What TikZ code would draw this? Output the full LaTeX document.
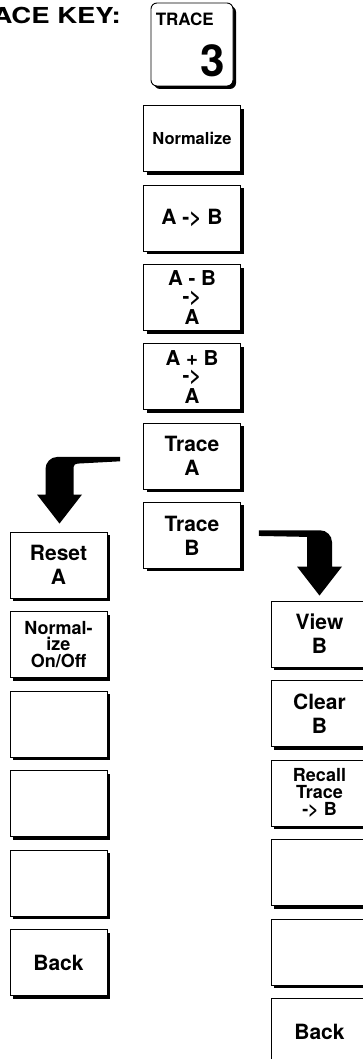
\documentclass[tikz,border=0pt]{standalone}
\usepackage{fontspec}
\setmainfont{TeX Gyre Heros}
\usetikzlibrary{positioning,calc,shadows}

\tikzset{
  softkey/.style={draw, line width=0.9pt, fill=white, minimum width=97pt,
    minimum height=66pt, inner sep=0pt, align=center,
    font=\bfseries\fontsize{21}{24}\selectfont,
    drop shadow={shadow xshift=3pt, shadow yshift=-3pt, fill=black, opacity=1}},
  keycap/.style={softkey, rounded corners=6pt, minimum width=82pt, minimum height=83pt},
  stacked/.style={font=\bfseries\fontsize{20.5}{17.5}\selectfont},
  smallkey/.style={font=\bfseries\fontsize{18}{16.7}\selectfont},
  bendarrow/.style={fill=black},
}

\begin{document}
\begin{tikzpicture}
    \useasboundingbox (0,0) rectangle (363pt,-1059pt);

    % hard key
    \node[keycap] (key) at (192pt,-44.5pt) {};
    \node[anchor=base west, inner sep=0pt, font=\bfseries\fontsize{17}{17}\selectfont]
      (keyname) at ($(key.north west)+(5pt,-22.7pt)$) {TRACE};
    \node[anchor=base east, inner sep=0pt, font=\bfseries\fontsize{44}{44}\selectfont]
      (keynum) at ($(key.south east)+(-8.5pt,10pt)$) {3};
    \node[anchor=base east, inner sep=0pt, font=\bfseries\fontsize{22}{22}\selectfont]
      (title) at (121pt,-23.3pt) {\scalebox{1.25}[1]{TRACE KEY:}};

    % main menu
    \node[softkey, font=\bfseries\fontsize{16.5}{18}\selectfont, below=19pt of key] (normalize) {Normalize};
    \node[softkey, below=12.4pt of normalize] (atob) {A -> B};
    \node[softkey, stacked, below=12.4pt of atob] (aminusb) {A - B\\->\\[3.5pt]A};
    \node[softkey, stacked, below=12.4pt of aminusb] (aplusb) {A + B\\->\\[3.5pt]A};
    \node[softkey, below=12.4pt of aplusb] (traceA) {Trace\\A};
    \node[softkey, below=12.4pt of traceA] (traceB) {Trace\\B};

    % trace A menu
    \node[softkey] (resetA) at (58.5pt,-565pt) {Reset\\A};
    \node[softkey, smallkey, below=12.6pt of resetA] (normonoff) {Normal-\\ize\\On/Off};
    \node[softkey, below=12.6pt of normonoff] (blankA1) {};
    \node[softkey, below=12.6pt of blankA1] (blankA2) {};
    \node[softkey, below=12.6pt of blankA2] (blankA3) {};
    \node[softkey, below=12.6pt of blankA3] (backA) {Back};

    % trace B menu
    \node[softkey] (viewB) at (319.5pt,-634pt) {View\\B};
    \node[softkey, below=12.6pt of viewB] (clearB) {Clear\\B};
    \node[softkey, smallkey, below=12.6pt of clearB] (recallB) {Recall\\Trace\\-> B};
    \node[softkey, below=12.6pt of recallB] (blankB1) {};
    \node[softkey, below=12.6pt of blankB1] (blankB2) {};
    \node[softkey, below=12.6pt of blankB2] (backB) {Back};

    % bent arrows
    \coordinate (tailA) at ($(traceA.west)+(-23pt,-3pt)$);
    \coordinate (tipA) at ($(resetA.north)+(1pt,8pt)$);
    \fill[bendarrow] let \p1=(tailA), \p2=(tipA) in
      (\x1,\y1+2.2pt) -- (\x2-2pt,\y1+2.2pt) arc[start angle=90, end angle=180, radius=12pt]
      -- (\x2-14pt,\y2+29pt) -- (\x2-22.5pt,\y2+29pt) -- (\p2) -- (\x2+22.5pt,\y2+29pt)
      -- (\x2+14pt,\y2+29pt) -- (\x2+14pt,\y1-8pt) to[out=90, in=180] (\x2+18pt,\y1-4.5pt)
      -- (\x1,\y1-2.2pt) -- cycle;

    \coordinate (tailB) at ($(traceB.east)+(18pt,2.3pt)$);
    \coordinate (tipB) at ($(viewB.north)+(0pt,5pt)$);
    \fill[bendarrow] let \p1=(tailB), \p2=(tipB) in
      (\x1,\y1+2.85pt) -- (\x2+0.5pt,\y1+2.85pt) arc[start angle=90, end angle=0, radius=12pt]
      -- (\x2+12.5pt,\y2+29pt) -- (\x2+22.5pt,\y2+29pt) -- (\p2) -- (\x2-22.5pt,\y2+29pt)
      -- (\x2-12.5pt,\y2+29pt) -- (\x2-12.5pt,\y1-3.8pt) -- (\x1,\y1-2.85pt) -- cycle;
\end{tikzpicture}
\end{document}
